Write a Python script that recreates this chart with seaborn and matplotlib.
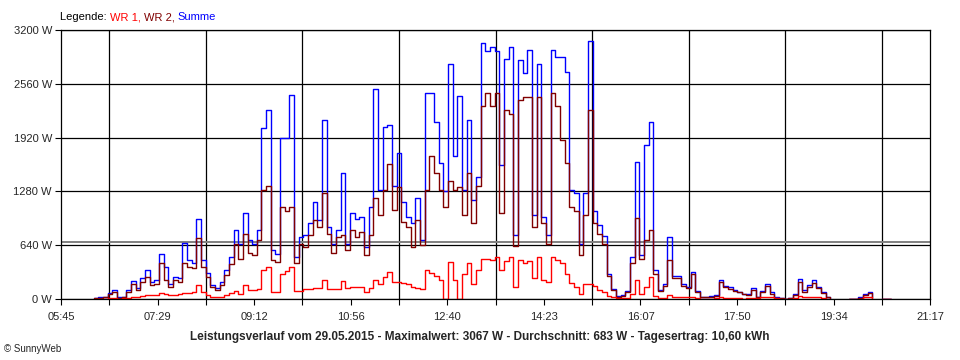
import numpy as np
import pandas as pd
import seaborn as sns
import matplotlib.pyplot as plt

nan = np.nan

# Messwerte alle 5 Minuten ab 06:20 (Minuten seit Mitternacht)
start_min = 380
schritt_min = 5

summe = [
    10, 20, 30, 70, 105, 20, 25, 107, 220, 127, 250, 350,
    206, 226, 535, 385, 180, 266, 246, 662, 464, 424, 948, 464,
    305, 167, 127, 206, 350, 500, 820, 660, 1020, 700, 650, 820,
    2030, 2250, 580, 540, 1910, 1910, 2430, 500, 740, 760, 900, 1160,
    940, 2130, 860, 660, 820, 1500, 660, 1020, 950, 980, 620, 1100,
    2500, 1300, 2050, 2070, 1350, 1735, 1150, 980, 900, 1200, 700, 2450,
    2450, 2100, 1615, 1290, 2800, 1700, 2410, 1300, 2130, 1180, 1450, 3040,
    2950, 3000, 2950, 1600, 2850, 3000, 760, 2840, 2690, 2960, 1000, 2800,
    980, 760, 2960, 2880, 2880, 2700, 1300, 1260, 650, 1260, 3067, 1050,
    880, 750, 300, 120, 35, 48, 100, 500, 1634, 520, 1833, 2110,
    345, 110, 186, 740, 280, 280, 186, 150, 325, 100, 28, 28,
    35, 48, 226, 160, 140, 110, 90, 67, 65, 127, 28, 100,
    178, 80, 20, 10, 5, 15, 60, 242, 107, 170, 226, 150,
    80, 30, 8, nan, nan, nan, 4, 4, 20, 60, 91, 20,
    nan, 3, 3, 3, nan,
]
wr2 = [
    8, 15, 25, 60, 90, 15, 20, 90, 180, 110, 200, 266,
    167, 186, 425, 226, 140, 226, 206, 425, 385, 365, 722, 385,
    266, 147, 107, 167, 290, 420, 650, 480, 780, 544, 530, 700,
    1300, 1340, 464, 440, 1100, 1050, 1100, 425, 660, 620, 760, 940,
    860, 1260, 780, 544, 740, 760, 583, 820, 740, 800, 520, 760,
    1200, 1000, 1300, 1610, 1060, 1338, 920, 860, 620, 940, 640, 1300,
    1700, 1500, 1300, 1100, 1400, 1300, 1338, 1000, 1500, 900, 1350, 2300,
    2450, 2300, 2450, 1020, 2250, 2200, 630, 2370, 2400, 2400, 860, 2400,
    900, 660, 2450, 2300, 1890, 1615, 1100, 1050, 520, 1000, 2250, 900,
    780, 660, 270, 105, 30, 40, 90, 430, 960, 480, 700, 820,
    300, 100, 160, 464, 250, 250, 160, 130, 300, 90, 25, 25,
    30, 40, 200, 145, 125, 100, 80, 60, 55, 110, 22, 85,
    155, 65, 15, 8, 4, 12, 50, 200, 90, 140, 195, 130,
    70, 25, 6, nan, nan, nan, 3, 3, 15, 45, 70, 15,
    nan, 2, 2, 2, nan,
]
wr1 = [
    3, 5, 7, 10, 12, 6, 8, 12, 20, 20, 35, 48,
    45, 55, 70, 65, 50, 55, 60, 70, 75, 90, 165, 80,
    50, 30, 25, 30, 45, 75, 100, 60, 165, 110, 105, 115,
    345, 385, 87, 85, 300, 330, 385, 95, 100, 120, 125, 130,
    130, 225, 125, 120, 125, 220, 130, 145, 150, 145, 85, 130,
    226, 180, 266, 325, 200, 200, 190, 180, 140, 130, 120, 345,
    305, 275, 230, 0, 445, 226, 0, 300, 425, 180, 350, 480,
    480, 470, 500, 350, 450, 500, 146, 460, 430, 450, 250, 500,
    230, 200, 500, 460, 424, 300, 190, 140, 60, 186, 186, 160,
    110, 90, 40, 20, 8, 8, 8, 60, 226, 67, 150, 265,
    40, 10, 10, 48, 30, 28, 28, 20, 20, 10, 5, 5,
    5, 8, 20, 15, 12, 10, 8, 6, 8, 12, 8, 20,
    25, 20, 8, 5, 2, 4, 10, 36, 20, 25, 28, 25,
    15, 5, 2, nan, nan, nan, 1, 1, 5, 20, 25, 5,
    nan, 1, 1, 1, nan,
]

x_labels = ['05:45', '07:29', '09:12', '10:56', '12:40',
            '14:23', '16:07', '17:50', '19:34', '21:17']
x_start, x_ende = 345, 1277
y_ticks = [0, 640, 1280, 1920, 2560, 3200]
durchschnitt = 683

rot = '#FF0000'
dunkelrot = '#800000'
blau = '#0000FF'

zeit = start_min + schritt_min * np.arange(len(summe))
df = pd.DataFrame({'t': zeit, 'WR 1': wr1, 'WR 2': wr2, 'Summe': summe})
df['seg'] = df['Summe'].isna().cumsum()
df = df.dropna()

sns.set_style('white')
plt.rcParams['font.family'] = ['Liberation Sans', 'DejaVu Sans']

fig, ax = plt.subplots(figsize=(9.6, 3.6), dpi=100)
fig.subplots_adjust(left=0.0635, right=0.969, bottom=0.169, top=0.917)

ax.axhline(durchschnitt, color='#808080', lw=1.4, zorder=1.5)

for spalte, farbe in [('Summe', blau), ('WR 2', dunkelrot), ('WR 1', rot)]:
    sns.lineplot(data=df, x='t', y=spalte, units='seg', estimator=None,
                 color=farbe, lw=1.0, drawstyle='steps-post', ax=ax, legend=False)

ax.set_xlim(x_start, x_ende)
ax.set_ylim(0, 3200)
ax.set_xlabel('')
ax.set_ylabel('')

major = np.linspace(x_start, x_ende, len(x_labels))
minor = np.linspace(x_start, x_ende, 2 * len(x_labels) - 1)
ax.set_xticks(major)
ax.set_xticklabels(x_labels)
ax.set_xticks(minor, minor=True)
ax.set_yticks(y_ticks)
ax.set_yticklabels([f'{v} W' for v in y_ticks])

ax.tick_params(axis='both', which='both', direction='out', length=4.5, width=0.8,
               color='black', labelsize=8, pad=2, bottom=True, left=True)
ax.tick_params(axis='x', pad=5)

ax.grid(True, axis='x', which='minor', color='black', lw=0.9)
ax.grid(True, axis='y', which='major', color='black', lw=0.9)
ax.set_axisbelow(True)
for sp in ax.spines.values():
    sp.set_color('black')
    sp.set_linewidth(0.9)

# Legende als farbige Textstücke
t = fig.text(60 / 960, 1 - 22 / 360, 'Legende: ', color='black', fontsize=8, va='bottom')
for s, c in [('WR 1, ', rot), ('WR 2, ', dunkelrot), ('Summe', blau)]:
    t = ax.annotate(s, xy=(1, 0), xycoords=t, va='bottom', ha='left', color=c, fontsize=8)

fig.text(0.5, 1 - 337 / 360,
         'Leistungsverlauf vom 29.05.2015 - Maximalwert: 3067 W - Durchschnitt: 683 W'
         ' - Tagesertrag: 10,60 kWh',
         ha='center', va='center', fontsize=8.5, fontweight='bold',
         family=['Liberation Sans Narrow', 'Liberation Sans', 'DejaVu Sans'])
fig.text(4 / 960, 1 - 349 / 360, '© SunnyWeb', ha='left', va='center', fontsize=7)

fig.savefig('out.png', dpi=100, facecolor='white')
